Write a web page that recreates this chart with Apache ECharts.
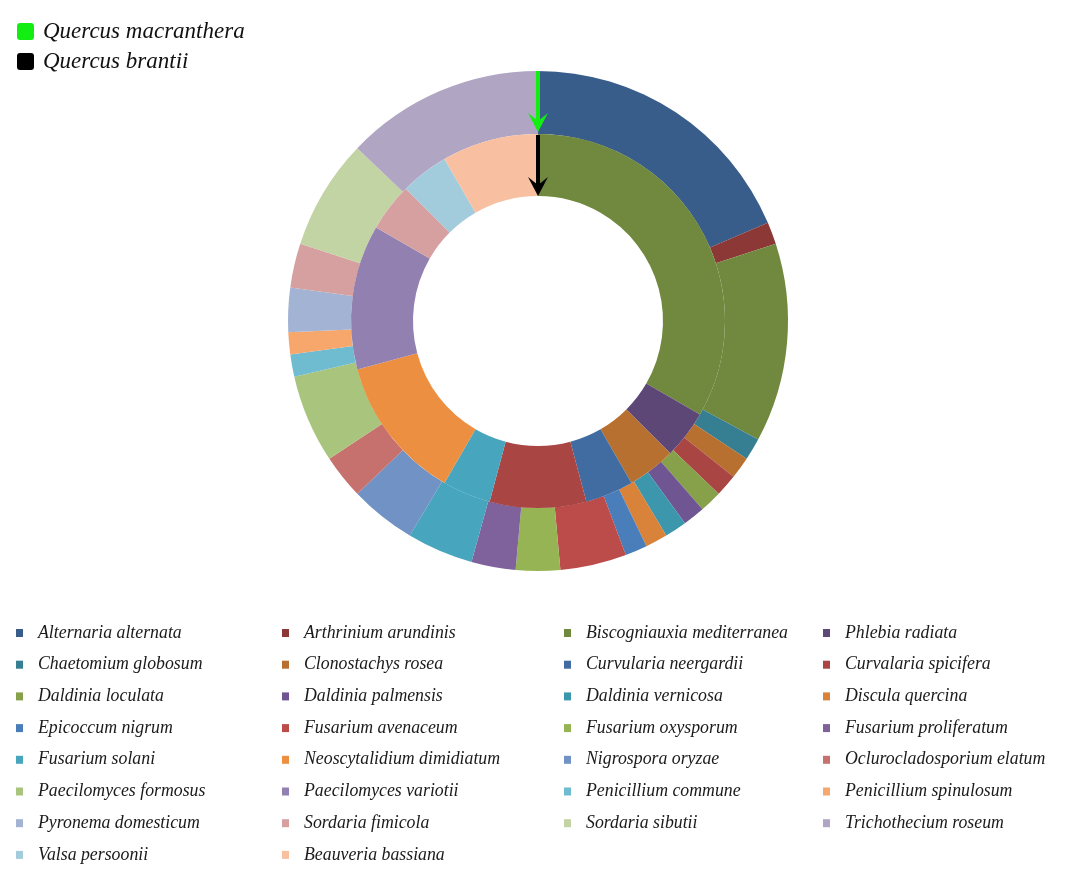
<!DOCTYPE html>
<html>
<head>
<meta charset="utf-8">
<script src="https://cdn.jsdelivr.net/npm/echarts@6/dist/echarts.min.js"></script>
<style>
  html, body { margin: 0; padding: 0; background: #fff; }
  #main { width: 1080px; height: 873px; }
</style>
</head>
<body>
<div id="main"></div>
<script>
// fungal species (legend order)
var species = [
  'Alternaria alternata', 'Arthrinium arundinis', 'Biscogniauxia mediterranea', 'Phlebia radiata',
  'Chaetomium globosum', 'Clonostachys rosea', 'Curvularia neergardii', 'Curvalaria spicifera',
  'Daldinia loculata', 'Daldinia palmensis', 'Daldinia vernicosa', 'Discula quercina',
  'Epicoccum nigrum', 'Fusarium avenaceum', 'Fusarium oxysporum', 'Fusarium proliferatum',
  'Fusarium solani', 'Neoscytalidium dimidiatum', 'Nigrospora oryzae', 'Oclurocladosporium elatum',
  'Paecilomyces formosus', 'Paecilomyces variotii', 'Penicillium commune', 'Penicillium spinulosum',
  'Pyronema domesticum', 'Sordaria fimicola', 'Sordaria sibutii', 'Trichothecium roseum',
  'Valsa persoonii', 'Beauveria bassiana'
];

// isolates from Quercus macranthera (outer ring)
var macranthera = [
  13, 1, 9, 0,
  1, 1, 0, 1,
  1, 1, 1, 1,
  1, 3, 2, 2,
  3, 0, 3, 2,
  4, 0, 1, 1,
  2, 2, 5, 9,
  0, 0
];

// isolates from Quercus brantii (inner ring)
var brantii = [
  0, 0, 8, 1,
  0, 1, 1, 2,
  0, 0, 0, 0,
  0, 0, 0, 0,
  1, 3, 0, 0,
  0, 3, 0, 0,
  0, 1, 0, 0,
  1, 2
];

var colors = [
  '#385d8a', '#8c3836', '#71893f', '#5d4777',
  '#367e92', '#b7702f', '#416ca1', '#a94543',
  '#87a04a', '#6f5693', '#3d97ac', '#d9823a',
  '#4a7ebb', '#bb4c4a', '#97b454', '#7f619c',
  '#47a5bd', '#ec8f40', '#7192c4', '#c7716f',
  '#a9c47c', '#9280b0', '#6fbcd0', '#f7a66c',
  '#a2b3d4', '#d6a0a0', '#c2d3a4', '#b1a5c4',
  '#a2cbdb', '#f8c0a0'
];

var CX = 538, CY = 321;
var R_IN = 125, R_MID = 187, R_OUT = 250;
var serif = "'Liberation Serif', 'Times New Roman', serif";

function pieData(values) {
  return species.map(function (name, i) {
    return { name: name, value: values[i], itemStyle: { color: colors[i] } };
  });
}

// legend: 4 columns, row-major order
var colLeft = [16, 282, 564, 823];
var legends = colLeft.map(function (left, c) {
  return {
    orient: 'vertical',
    left: left,
    top: 623,
    padding: 0,
    itemWidth: 7,
    itemHeight: 8,
    itemGap: 11.7,
    icon: 'rect',
    selectedMode: false,
    data: species.filter(function (s, i) { return i % 4 === c; }),
    textStyle: {
      fontFamily: serif,
      fontStyle: 'italic',
      fontSize: 17.8,
      lineHeight: 20,
      color: '#1a1a1a',
      padding: [0, 0, 0, 10]
    }
  };
});

// small arrow: vertical line with a stealth head ending at the given radius
function arrow(fromR, toR, color) {
  return {
    type: 'group',
    z: 100,
    children: [
      {
        type: 'line',
        z: 100,
        shape: { x1: CX, y1: CY - fromR, x2: CX, y2: CY - toR - 8 },
        style: { stroke: color, lineWidth: 4 }
      },
      {
        type: 'polygon',
        z: 100,
        shape: {
          points: [
            [CX, CY - toR],
            [CX - 10, CY - toR - 19],
            [CX, CY - toR - 11],
            [CX + 10, CY - toR - 19]
          ]
        },
        style: { fill: color }
      }
    ]
  };
}

var chart = echarts.init(document.getElementById('main'));
chart.setOption({
  animation: false,
  backgroundColor: '#ffffff',
  legend: legends,
  series: [
    {
      name: 'Quercus macranthera',
      type: 'pie',
      center: [CX, CY],
      radius: [R_MID, R_OUT],
      startAngle: 90,
      clockwise: true,
      label: { show: false },
      labelLine: { show: false },
      emphasis: { disabled: true },
      itemStyle: { borderWidth: 0 },
      data: pieData(macranthera)
    },
    {
      name: 'Quercus brantii',
      type: 'pie',
      center: [CX, CY],
      radius: [R_IN, R_MID],
      startAngle: 90,
      clockwise: true,
      label: { show: false },
      labelLine: { show: false },
      emphasis: { disabled: true },
      itemStyle: { borderWidth: 0 },
      data: pieData(brantii)
    }
  ],
  graphic: [
    { type: 'rect', shape: { x: 17, y: 23, width: 17, height: 17, r: 3 }, style: { fill: '#12ee12' } },
    { type: 'text', x: 43, y: 32, style: { text: 'Quercus macranthera', font: 'italic 23px ' + serif, fill: '#111', verticalAlign: 'middle' } },
    { type: 'rect', shape: { x: 17, y: 53, width: 17, height: 17, r: 3 }, style: { fill: '#000' } },
    { type: 'text', x: 43, y: 62, style: { text: 'Quercus brantii', font: 'italic 23px ' + serif, fill: '#111', verticalAlign: 'middle' } },
    arrow(R_OUT, R_MID + 2, '#12ee12'),
    arrow(R_MID - 1, R_IN, '#000')
  ]
});
</script>
</body>
</html>
